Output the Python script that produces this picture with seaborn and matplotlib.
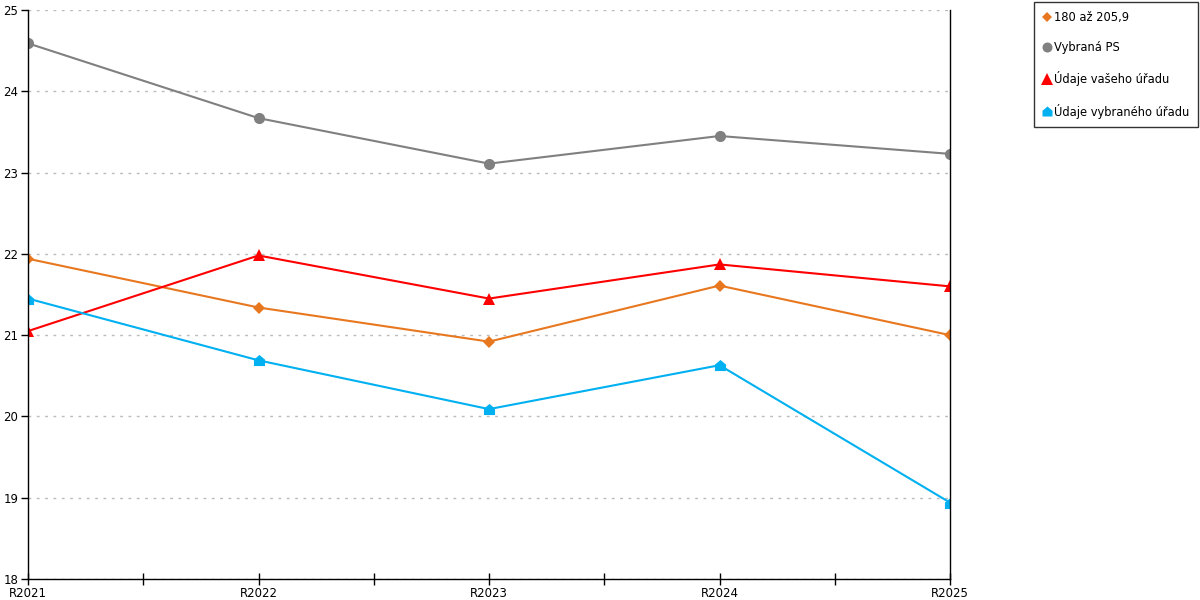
import numpy as np
import pandas as pd
import matplotlib
matplotlib.use("Agg")
import matplotlib.pyplot as plt
from matplotlib.lines import Line2D
from matplotlib.path import Path
import seaborn as sns

years = ["R2021", "R2022", "R2023", "R2024", "R2025"]
series_names = ["180 až 205,9", "Vybraná PS", "Údaje vašeho úřadu", "Údaje vybraného úřadu"]
orange_vals = [21.94, 21.34, 20.92, 21.61, 21.00]
gray_vals = [24.59, 23.67, 23.11, 23.45, 23.23]
red_vals = [21.05, 21.98, 21.45, 21.87, 21.60]
cyan_vals = [21.45, 20.69, 20.09, 20.63, 18.94]

house = Path([(-1, -1), (1, -1), (1, 0.15), (0, 1), (-1, 0.15), (-1, -1)],
             [Path.MOVETO, Path.LINETO, Path.LINETO, Path.LINETO, Path.LINETO, Path.CLOSEPOLY])

styles = [
    ("#E87820", "D", 6),
    ("#808080", "o", 8),
    ("#FF0000", "^", 9),
    ("#00B0F0", house, 8),
]

sns.set_style("white")
plt.rcParams["font.family"] = ["DejaVu Sans"]
plt.rcParams["text.color"] = "black"
plt.rcParams["xtick.color"] = "black"
plt.rcParams["ytick.color"] = "black"

fig = plt.figure(figsize=(12, 6), dpi=100)
ax = fig.add_axes([28 / 1200, 21 / 600, 922 / 1200, 569 / 600])

x = np.arange(len(years))
all_vals = [orange_vals, gray_vals, red_vals, cyan_vals]
handles = []
for name, vals, (col, mk, ms) in zip(series_names, all_vals, styles):
    df = pd.DataFrame({"x": x, "y": vals})
    sns.lineplot(data=df, x="x", y="y", ax=ax, color=col, linewidth=1.5,
                 marker=mk, markersize=ms, markeredgewidth=0, markeredgecolor=col)
    handles.append(Line2D([], [], linestyle="none", marker=mk, color=col,
                          markersize=ms * 0.9, markeredgewidth=0, label=name))

ax.set_xlim(0, 4)
ax.set_ylim(18, 25)
ax.set_xticks(x)
ax.set_xticklabels(years)
ax.set_xticks(np.arange(0.5, 4, 1), minor=True)
ax.set_yticks(range(18, 26))
ax.tick_params(axis="x", which="both", bottom=True, direction="inout", length=8, width=1,
               color="black", labelcolor="black", labelsize=8.5, pad=2)
ax.tick_params(axis="y", left=True, direction="out", length=5, width=1, color="black",
               labelcolor="black", labelsize=8.5, pad=2)
ax.set_xlabel("")
ax.set_ylabel("")
ax.grid(axis="y", color="#BBBBBB", linestyle=(0, (2, 4)), linewidth=1)
ax.set_axisbelow(True)
for side in ["left", "bottom", "right"]:
    ax.spines[side].set_visible(True)
    ax.spines[side].set_color("black")
    ax.spines[side].set_linewidth(1)
ax.spines["top"].set_visible(False)

leg = fig.legend(handles=handles, loc="upper left", bbox_to_anchor=(1034 / 1200, 1 - 2 / 600),
                 fontsize=8.3, frameon=True, fancybox=False, edgecolor="black",
                 labelspacing=1.5, handlelength=0.7, handletextpad=0.3, borderpad=0.75,
                 borderaxespad=0)
leg.get_frame().set_linewidth(1)
for t in leg.get_texts():
    t.set_color("black")

fig.savefig("out.png", dpi=100)
